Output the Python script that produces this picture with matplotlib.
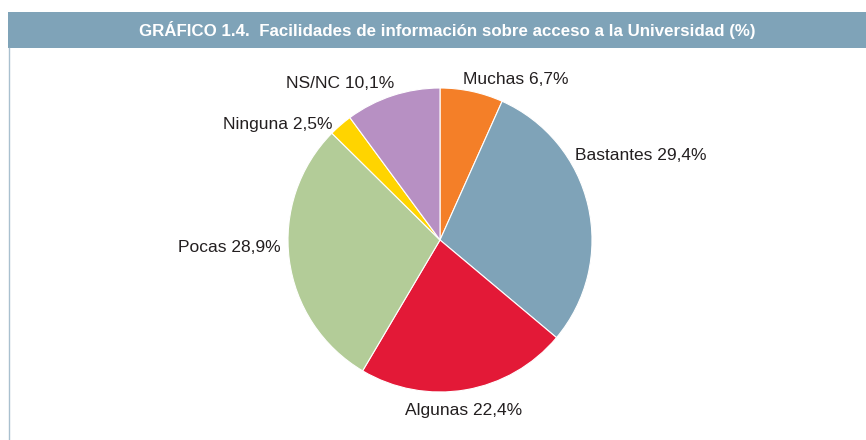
import matplotlib
matplotlib.use("Agg")
import matplotlib.pyplot as plt
from matplotlib.patches import Rectangle
from matplotlib.lines import Line2D
from matplotlib import font_manager

categories = ["Muchas", "Bastantes", "Algunas", "Pocas", "Ninguna", "NS/NC"]
values = [6.7, 29.4, 22.4, 28.9, 2.5, 10.1]
value_labels = ["6,7%", "29,4%", "22,4%", "28,9%", "2,5%", "10,1%"]
colors = ["#f47f28", "#7fa3b8", "#e31937", "#b3cc98", "#ffd400", "#b790c3"]
title = "GRÁFICO 1.4.  Facilidades de información sobre acceso a la Universidad (%)"

# label anchor positions in pixel layout (x from left, y from top)
label_pos = [(516, 80), (641, 155), (464, 410), (229, 247), (278, 124), (340, 83)]

names = {f.name for f in font_manager.fontManager.ttflist}
fam = ["Liberation Sans Narrow", "DejaVu Sans"] if "Liberation Sans Narrow" in names else ["Liberation Sans", "DejaVu Sans"]

W, H = 866, 440
fig = plt.figure(figsize=(W / 100, H / 100), dpi=100)
ax = fig.add_axes([0, 0, 1, 1])
ax.set_xlim(0, W)
ax.set_ylim(H, 0)
ax.set_aspect("equal")
ax.axis("off")

# title bar
ax.add_patch(Rectangle((8, 12), W - 8, 36, facecolor="#7fa3b8", edgecolor="none"))
ax.text(447, 30, title, color="white", fontsize=12.2, fontweight="bold",
        family=fam, ha="center", va="center")
ax.add_line(Line2D([8.5, 8.5], [48, H], color="#a9c0cf", lw=1))

# pie (y axis inverted, so counterclock=True gives clockwise on screen)
wedges, _ = ax.pie(values, colors=colors, startangle=-90, counterclock=True,
                   center=(440, 240), radius=152, frame=True,
                   wedgeprops=dict(edgecolor="white", linewidth=0.8))
ax.set_xlim(0, W)
ax.set_ylim(H, 0)
ax.axis("off")

for cat, vl, (x, y) in zip(categories, value_labels, label_pos):
    ax.text(x, y, f"{cat} {vl}", fontsize=12.5, family=fam, color="#231f20",
            ha="center", va="center")

fig.savefig("out.png", dpi=100)
